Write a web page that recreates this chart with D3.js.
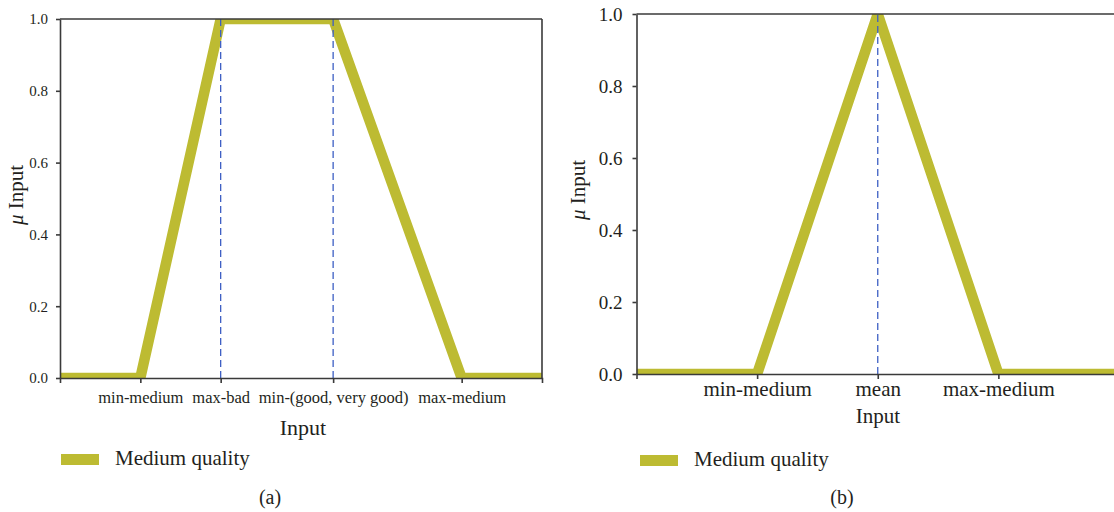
<!DOCTYPE html>
<html>
<head>
<meta charset="utf-8">
<script src="https://cdn.jsdelivr.net/npm/d3@7"></script>
<style>
  html, body { margin: 0; padding: 0; background: #fff; }
  svg { display: block; font-family: "Liberation Serif", "DejaVu Serif", serif; }
</style>
</head>
<body>
<svg id="chart" width="1114" height="512"></svg>
<script>
// Membership function of the "Medium quality" fuzzy set, two variants.
// Panel (a): trapezoid
const aCategories = ["min-medium", "max-bad", "min-(good, very good)", "max-medium"];
const aTickValues = [1, 2, 3.4, 5];
const aX = [0, 1, 2, 3.4, 5, 6];
const aMu = [0, 0, 1, 1, 0, 0];
const aGuides = [2, 3.4];

// Panel (b): triangle
const bCategories = ["min-medium", "mean", "max-medium"];
const bTickValues = [1, 2, 3];
const bX = [0, 1, 2, 3, 4];
const bMu = [0, 0, 1, 0, 0];
const bGuides = [2];

const yTicks = [0, 0.2, 0.4, 0.6, 0.8, 1.0];
const seriesName = "Medium quality";

const GREEN = "#bdbb32";
const BLUE = "#3d5fc4";
const AXIS = "#3a3a3a";

const svg = d3.select("#chart");

function drawPanel(cfg) {
  const x = d3.scaleLinear().domain(cfg.xDomain).range([cfg.left, cfg.right]);
  const y = d3.scaleLinear().domain([0, 1]).range([cfg.bottom, cfg.top]);
  const g = svg.append("g");

  const clipId = "clip-" + cfg.id;
  g.append("clipPath").attr("id", clipId)
    .append("rect")
    .attr("x", cfg.left).attr("y", cfg.top)
    .attr("width", cfg.right - cfg.left).attr("height", cfg.bottom - cfg.top);

  // membership curve
  const pts = cfg.xs.map((v, i) => [v, cfg.mu[i]]);
  g.append("path")
    .datum(pts)
    .attr("clip-path", `url(#${clipId})`)
    .attr("fill", "none")
    .attr("stroke", GREEN)
    .attr("stroke-width", 10.5)
    .attr("stroke-linejoin", "miter")
    .attr("d", d3.line().x(d => x(d[0])).y(d => y(d[1])));

  // dashed guide lines
  g.selectAll(".guide").data(cfg.guides).join("line")
    .attr("x1", d => x(d)).attr("x2", d => x(d))
    .attr("y1", y(0)).attr("y2", y(1))
    .attr("stroke", BLUE).attr("stroke-width", 1.3)
    .attr("stroke-dasharray", "7,4");

  // frame lines
  g.append("line")
    .attr("x1", cfg.left).attr("x2", Math.min(cfg.right, 1114))
    .attr("y1", cfg.top).attr("y2", cfg.top)
    .attr("stroke", AXIS).attr("stroke-width", 1.6);
  if (cfg.rightBorder) {
    g.append("line")
      .attr("x1", cfg.right).attr("x2", cfg.right)
      .attr("y1", cfg.top).attr("y2", cfg.bottom)
      .attr("stroke", AXIS).attr("stroke-width", 1.6);
  }

  // y axis
  const yAxis = g.append("g")
    .attr("transform", `translate(${cfg.left},0)`)
    .call(d3.axisLeft(y).tickValues(yTicks).tickFormat(d3.format(".1f"))
      .tickSize(4).tickSizeOuter(0).tickPadding(cfg.yPad));
  yAxis.select(".domain").attr("stroke", AXIS).attr("stroke-width", 1.6);
  yAxis.selectAll(".tick line").attr("stroke", AXIS).attr("stroke-width", 1.6);
  yAxis.selectAll("text").attr("font-size", cfg.yFont).attr("fill", "#231f20")
    .attr("font-family", "Liberation Serif");

  // x axis
  const xAxis = g.append("g")
    .attr("transform", `translate(0,${cfg.bottom})`)
    .call(d3.axisBottom(x).tickValues(cfg.tickValues)
      .tickFormat((d, i) => cfg.categories[i])
      .tickSize(5).tickSizeOuter(5).tickPadding(cfg.xPad));
  xAxis.select(".domain").attr("stroke", AXIS).attr("stroke-width", 1.6);
  xAxis.selectAll(".tick line").attr("stroke", AXIS).attr("stroke-width", 1.6);
  xAxis.selectAll("text").attr("font-size", cfg.xFont).attr("fill", "#231f20")
    .attr("font-family", "Liberation Serif");

  // axis titles
  const yt = g.append("text")
    .attr("transform", `translate(${cfg.yTitleX},${cfg.yTitleY}) rotate(-90)`)
    .attr("text-anchor", "middle")
    .attr("font-size", cfg.yTitleFont).attr("fill", "#231f20");
  yt.append("tspan").attr("font-style", "italic").text("\u03bc");
  yt.append("tspan").text(" Input");

  g.append("text")
    .attr("x", cfg.xTitleX).attr("y", cfg.xTitleY)
    .attr("text-anchor", "middle")
    .attr("font-size", cfg.xTitleFont).attr("fill", "#231f20")
    .text("Input");

  // legend
  g.append("rect")
    .attr("x", cfg.legX).attr("y", cfg.legY)
    .attr("width", 38).attr("height", 11)
    .attr("fill", GREEN);
  g.append("text")
    .attr("x", cfg.legX + 54).attr("y", cfg.legY + 11)
    .attr("font-size", 21).attr("fill", "#231f20")
    .text(seriesName);

  // panel caption
  g.append("text")
    .attr("x", cfg.capX).attr("y", 504)
    .attr("text-anchor", "middle")
    .attr("font-size", 20).attr("fill", "#231f20")
    .text(cfg.caption);
}

drawPanel({
  id: "a", caption: "(a)",
  xDomain: [0, 6], left: 60, right: 542, top: 19, bottom: 378,
  xs: aX, mu: aMu, guides: aGuides,
  tickValues: aTickValues, categories: aCategories,
  rightBorder: true,
  yFont: 15, xFont: 16.5, yPad: 8, xPad: 8, yTitleFont: 21, xTitleFont: 22,
  yTitleX: 23, yTitleY: 195,
  xTitleX: 303, xTitleY: 435,
  legX: 61, legY: 454,
  capX: 270
});

drawPanel({
  id: "b", caption: "(b)",
  xDomain: [0, 4], left: 636.5, right: 1119, top: 14, bottom: 374,
  xs: bX, mu: bMu, guides: bGuides,
  tickValues: bTickValues, categories: bCategories,
  rightBorder: false,
  yFont: 19, xFont: 21, yPad: 10, xPad: 2, yTitleFont: 21, xTitleFont: 21,
  yTitleX: 585, yTitleY: 190,
  xTitleX: 878, xTitleY: 423,
  legX: 640, legY: 455,
  capX: 842
});
</script>
</body>
</html>
